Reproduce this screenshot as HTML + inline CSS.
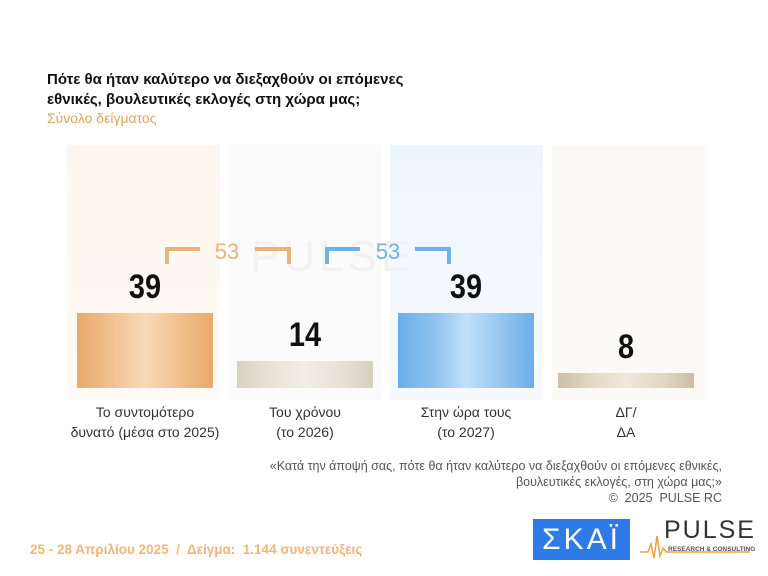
<!DOCTYPE html><html><head><meta charset="utf-8"><style>
body{margin:0;width:768px;height:576px;background:#fff;position:relative;overflow:hidden;font-family:"Liberation Sans",sans-serif}
.a{position:absolute}
.t{font-weight:bold;font-size:15px;color:#111;line-height:20px;left:47px;top:70px}
.col{position:absolute;top:145px;height:255px;width:153px}
.bar{position:absolute;width:136px}
.num{position:absolute;width:136px;text-align:center;font-weight:bold;font-size:34px;color:#111;transform:scaleX(.85)}
.lab{position:absolute;width:170px;text-align:center;font-size:14px;color:#333;line-height:20px}
</style></head><body>
<div class="a t">Πότε θα ήταν καλύτερο να διεξαχθούν οι επόμενες<br>εθνικές, βουλευτικές εκλογές στη χώρα μας;</div>
<div class="a" style="left:47px;top:110px;font-size:14px;color:#e3a25e">Σύνολο δείγματος</div>
<div class="col" style="left:67px;background:linear-gradient(#fdf7ef,#fffaf5)"></div>
<div class="col" style="left:228px;background:#fbfbfb"></div>
<div class="col" style="left:390px;background:linear-gradient(#eef6fd,#f6fafe)"></div>
<div class="col" style="left:552px;background:#fcfaf6"></div>
<div class="a" style="left:250px;top:232px;font-size:44px;color:#f2f2f2;letter-spacing:4px">PULSE</div>
<div class="bar" style="left:77px;top:313px;height:75px;background:linear-gradient(90deg,#eaa96b,#f3c598 30%,#f8d9b8 50%,#f0bb86 80%,#e9a96a)"></div>
<div class="bar" style="left:237px;top:361px;height:27px;background:linear-gradient(90deg,#d8d0c2,#ece6da 30%,#f2eee6 50%,#e6e0d4 80%,#d6cec0)"></div>
<div class="bar" style="left:398px;top:313px;height:75px;background:linear-gradient(90deg,#6aaee8,#93c6f0 30%,#c2e0fa 50%,#8ec2ee 80%,#6aaee8)"></div>
<div class="bar" style="left:558px;top:373px;height:15px;background:linear-gradient(90deg,#cdbfa8,#e6dccc 30%,#f0e8dc 50%,#e0d4c2 80%,#cbbca4)"></div>
<div class="num" style="left:77px;top:268px">39</div>
<div class="num" style="left:237px;top:316px">14</div>
<div class="num" style="left:398px;top:268px">39</div>
<div class="num" style="left:558px;top:328px">8</div>
<svg class="a" style="left:0;top:0" width="768" height="576">
<path d="M167 264V249H200M255 249H289V264" fill="none" stroke="#eab27c" stroke-width="4"/>
<path d="M327 264V249H360M415 249H449V264" fill="none" stroke="#6fb0e8" stroke-width="4"/>
<text x="227" y="259" text-anchor="middle" font-size="22" fill="#eab27c" font-family="Liberation Sans">53</text>
<text x="388" y="259" text-anchor="middle" font-size="22" fill="#6fb0e8" font-family="Liberation Sans">53</text>
</svg>
<div class="lab" style="left:60px;top:402px">Το συντομότερο<br>δυνατό (μέσα στο 2025)</div>
<div class="lab" style="left:220px;top:402px">Του χρόνου<br>(το 2026)</div>
<div class="lab" style="left:381px;top:402px">Στην ώρα τους<br>(το 2027)</div>
<div class="lab" style="left:541px;top:402px">ΔΓ/<br>ΔΑ</div>
<div class="a" style="right:46px;top:458px;text-align:right;font-size:12.5px;color:#555;line-height:16px">«Κατά την άποψή σας, πότε θα ήταν καλύτερο να διεξαχθούν οι επόμενες εθνικές,<br>βουλευτικές εκλογές, στη χώρα μας;»<br>©&nbsp; 2025&nbsp; PULSE RC</div>
<div class="a" style="left:30px;top:542px;font-size:13.5px;font-weight:bold;color:#f0b57a">25 - 28 Απριλίου 2025&nbsp; /&nbsp; Δείγμα:&nbsp; 1.144 συνεντεύξεις</div>
<div class="a" style="left:533px;top:519px;width:97px;height:41px;background:#2e7be8;color:#fff;font-size:30px;text-align:center;line-height:41px;letter-spacing:3px">ΣΚΑΪ</div>
<svg class="a" style="left:640px;top:518px" width="115" height="44"><path d="M0 34H8L11 26L14 40L17 18L20 38L23 30L26 34H110" fill="none" stroke="#f0a040" stroke-width="1.5"/></svg>
<div class="a" style="left:664px;top:516px;font-size:25px;color:#333;letter-spacing:2px">PULSE</div>
<div class="a" style="left:668px;top:546px;font-size:6.5px;color:#555;font-weight:bold">RESEARCH &amp; CONSULTING</div>
</body></html>
